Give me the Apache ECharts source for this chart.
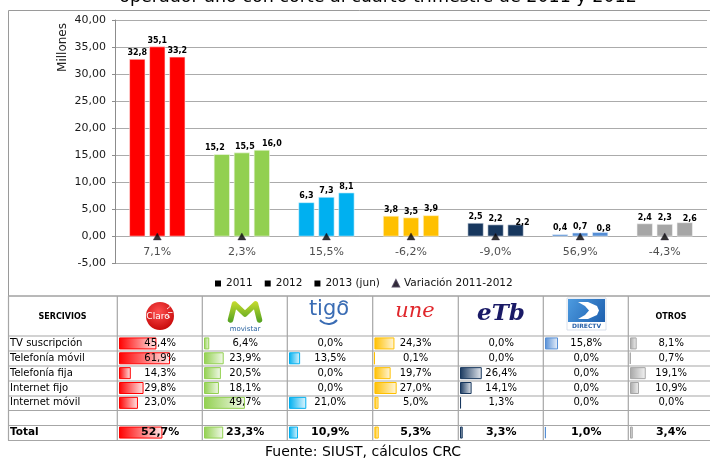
<!DOCTYPE html>
<html><head><meta charset="utf-8">
<script src="https://cdn.jsdelivr.net/npm/echarts@6/dist/echarts.min.js"></script>
<style>html,body{margin:0;padding:0;background:#fff}#c{width:710px;height:460px}</style>
</head><body><div id="c"></div>
<script>
// ---- data ----
const operators = ['Claro','Movistar','Tigo','UNE','ETB','DirecTV','Otros'];
const subs2011 = [32.8, 15.2, 6.3, 3.8, 2.5, 0.4, 2.4];
const subs2012 = [35.1, 15.5, 7.3, 3.5, 2.2, 0.7, 2.3];
const subs2013 = [33.2, 16.0, 8.1, 3.9, 2.2, 0.8, 2.6];
const variacion = [7.1, 2.3, 15.5, -6.2, -9.0, 56.9, -4.3];
const seriesNames = ['2011', '2012', '2013 (jun)', 'Variación 2011-2012'];
const yMin = -5, yMax = 40, yStep = 5;
const services = ['TV suscripción','Telefonía móvil','Telefonía fija','Internet fijo','Internet móvil'];
const shareClaro    = [45.4, 61.9, 14.3, 29.8, 23.0];
const shareMovistar = [6.4, 23.9, 20.5, 18.1, 49.7];
const shareTigo     = [0.0, 13.5, 0.0, 0.0, 21.0];
const shareUne      = [24.3, 0.1, 19.7, 27.0, 5.0];
const shareEtb      = [0.0, 0.0, 26.4, 14.1, 1.3];
const shareDirectv  = [15.8, 0.0, 0.0, 0.0, 0.0];
const shareOtros    = [8.1, 0.7, 19.1, 10.9, 0.0];
const totals        = [52.7, 23.3, 10.9, 5.3, 3.3, 1.0, 3.4];
const totalLabel = 'Total';
const headerLabel = 'SERCIVIOS';
const otrosLabel = 'OTROS';
const titleText = 'operador año con corte al cuarto trimestre de 2011 y 2012';
const yName = 'Millones';
const sourceText = 'Fuente: SIUST, cálculos CRC';

// ---- styles ----
const FONT = '"DejaVu Sans", Verdana, sans-serif';
const opColors = ['#FF0000','#92D050','#00B0F0','#FFC000','#17375E','#558ED5','#A6A6A6'];
const opLight  = ['#FFEAEA','#F2F9EA','#E3F6FD','#FFF6DC','#E6EAF0','#EDF3FB','#F4F4F4'];
const colLefts = [117.3, 202.3, 287.3, 372.7, 458.3, 543.3, 628.3];
const shares = [shareClaro, shareMovistar, shareTigo, shareUne, shareEtb, shareDirectv, shareOtros];
// label nudges (series index - category index) to mimic the original's de-overlapped labels
const labelNudge = {'0-1': [-7, 0], '1-1': [3, 0], '2-1': [10, 0], '2-4': [7, 4], '2-5': [3.5, 3], '2-6': [5, 3]};

const fmt1 = v => v.toFixed(1).replace('.', ',');
const fmt2 = v => v.toFixed(2).replace('.', ',');

const chart = echarts.init(document.getElementById('c'), null, {renderer: 'canvas'});

const grids = [{left: 115, right: 3, top: 20, bottom: 196.5, outerBoundsMode: 'none', containLabel: false}];
const xAxes = [{gridIndex: 0, type: 'category', data: operators, boundaryGap: true,
  axisLine: {show: false}, axisTick: {show: false}, axisLabel: {show: false}}];
const yAxes = [{gridIndex: 0, type: 'value', min: yMin, max: yMax, interval: yStep,
  axisLine: {show: true, lineStyle: {color: '#8c8c8c'}},
  axisTick: {show: true, length: 3, lineStyle: {color: '#8c8c8c'}},
  axisLabel: {formatter: fmt2, fontFamily: FONT, fontSize: 11, color: '#1a1a1a', margin: 9},
  splitLine: {show: true, lineStyle: {color: '#ababab', width: 1}}}];

const barLabel = {show: true, position: 'top', distance: 2, fontFamily: FONT, fontWeight: 'bold',
  fontSize: 8, color: '#000', formatter: p => fmt1(p.value)};
function mainBar(si, name, vals) {
  return {type: 'bar', name, xAxisIndex: 0, yAxisIndex: 0, barWidth: 16, barGap: '25%',
    itemStyle: {color: '#000'}, label: barLabel,
    data: vals.map((v, i) => {
      const d = {value: v, itemStyle: {color: opColors[i], borderColor: opLight[i], borderWidth: 0.6}};
      const n = labelNudge[si + '-' + i];
      if (n) d.label = {offset: n};
      return d;
    })};
}
const series = [
  mainBar(0, seriesNames[0], subs2011),
  mainBar(1, seriesNames[1], subs2012),
  mainBar(2, seriesNames[2], subs2013),
  {type: 'scatter', name: seriesNames[3], xAxisIndex: 0, yAxisIndex: 0, symbol: 'triangle', symbolSize: [8, 7],
   itemStyle: {color: '#000', borderColor: '#2a1f3a', borderWidth: 0.5}, z: 5,
   data: variacion.map(() => 0),
   label: {show: true, position: 'bottom', distance: 6, fontFamily: FONT, fontSize: 11, color: '#222',
     formatter: p => fmt1(variacion[p.dataIndex]) + '%'}}
];

// ---- table as per-operator horizontal bar grids ----
const rowNames = services.concat(['', totalLabel]);
shares.forEach((sh, i) => {
  const gi = i + 1;
  grids.push({left: colLefts[i] + 1.7, width: 82.4, top: 336, height: 104, outerBoundsMode: 'none', containLabel: false});
  xAxes.push({gridIndex: gi, type: 'value', min: 0, max: 100, show: false});
  yAxes.push({gridIndex: gi, type: 'category', inverse: true, show: i === 0,
    data: rowNames.map(r => r === totalLabel ? {value: r, textStyle: {fontWeight: 'bold', fontSize: 10.5, align: 'left'}} : r),
    axisLine: {show: false}, axisTick: {show: false}, splitLine: {show: false},
    axisLabel: {show: i === 0, align: 'left', margin: colLefts[0] + 1.7 - 10, fontFamily: FONT, fontSize: 10, color: '#000', interval: 0}});
  const vals = sh.concat([null, totals[i]]);
  const grad = new echarts.graphic.LinearGradient(0, 0, 1, 0, [{offset: 0, color: opColors[i]}, {offset: 1, color: opLight[i]}]);
  series.push({type: 'bar', xAxisIndex: gi, yAxisIndex: gi, barWidth: 12, silent: true,
    itemStyle: {color: grad, borderColor: opColors[i], borderWidth: 1},
    data: vals.map(v => v == null ? '-' : (v === 0 ? {value: 0, itemStyle: {borderWidth: 0}} : v))});
  series.push({type: 'bar', xAxisIndex: gi, yAxisIndex: gi, barWidth: 12, barGap: '-100%', z: 3, silent: true,
    itemStyle: {color: 'rgba(0,0,0,0)'},
    label: {show: true, position: 'inside', fontFamily: FONT, fontSize: 10, color: '#000',
      formatter: p => fmt1(vals[p.dataIndex]) + '%'},
    data: vals.map((v, r) => v == null ? '-' : (r === vals.length - 1 ?
      {value: 100, label: {fontWeight: 'bold', fontSize: 11}} : 100))});
});

// ---- static graphics (frame, table rules, logos, texts) ----
const G = [];
const LINE = '#a6a6a6';
G.push({type: 'rect', shape: {x: 8.5, y: 10.5, width: 720, height: 285.5}, style: {fill: null, stroke: '#9a9a9a', lineWidth: 1}, silent: true});
[296, 336, 351, 366, 381, 396, 410.5, 425.5, 440.5].forEach(y => {
  G.push({type: 'line', shape: {x1: 8, y1: y, x2: 712, y2: y}, style: {stroke: LINE, lineWidth: 1.2}, silent: true});
});
[8.5].concat(colLefts).forEach(x => {
  G.push({type: 'line', shape: {x1: x, y1: 296, x2: x, y2: 440.5}, style: {stroke: LINE, lineWidth: 1.2}, silent: true});
});
function txt(x, y, text, font, fill, extra) {
  return Object.assign({type: 'text', silent: true, style: Object.assign({x, y, text, font, fill,
    textAlign: 'center', textVerticalAlign: 'middle', align: 'center', verticalAlign: 'middle'}, extra || {})});
}
G.push(txt(378, -2.5, titleText, '17.5px ' + FONT, '#000'));
G.push(Object.assign(txt(0, 0, yName, '12px ' + FONT, '#222'), {x: 63, y: 47.5, rotation: Math.PI / 2}));
G.push(txt(62.5, 316.5, headerLabel, 'bold 8px ' + FONT, '#000'));
G.push(txt(671, 316.5, otrosLabel, 'bold 8px ' + FONT, '#000'));
G.push(txt(363, 452, sourceText, '14px ' + FONT, '#000'));
// Claro
G.push({type: 'circle', silent: true, shape: {cx: 160, cy: 316, r: 14},
  style: {fill: new echarts.graphic.RadialGradient(0.45, 0.35, 0.75, [{offset: 0, color: '#ff5050'}, {offset: 1, color: '#c00000'}])}});
G.push(txt(158, 317, 'Claro', '9px ' + FONT, '#fff'));
[[167, 309, 170, 306.5], [168, 312.5, 172.5, 312.5], [166.5, 315.5, 170, 317.5]].forEach(l =>
  G.push({type: 'line', silent: true, shape: {x1: l[0], y1: l[1], x2: l[2], y2: l[3]}, style: {stroke: '#fff', lineWidth: 0.8}}));
// Movistar
G.push({type: 'polyline', silent: true, shape: {points: [[230.5, 320], [234.5, 304], [245, 314], [255.5, 304], [259.5, 320]]},
  style: {fill: null, stroke: new echarts.graphic.LinearGradient(0, 0, 0, 1, [{offset: 0, color: '#c8dc2e'}, {offset: 1, color: '#4fa021'}]),
    lineWidth: 5.5, lineJoin: 'round', lineCap: 'round'}});
G.push(txt(245, 329, 'movistar', '7px ' + FONT, '#2b64a0'));
// Tigo
G.push(txt(329, 309.5, 'tigo', '21px ' + FONT, '#3a6cb4'));
G.push({type: 'arc', silent: true, shape: {cx: 328.5, cy: 313, r: 11, startAngle: Math.PI * 0.22, endAngle: Math.PI * 0.78},
  style: {fill: null, stroke: '#3a6cb4', lineWidth: 2}});
G.push({type: 'arc', silent: true, shape: {cx: 343.5, cy: 305.5, r: 4.5, startAngle: Math.PI * 1.15, endAngle: Math.PI * 1.85},
  style: {fill: null, stroke: '#3a6cb4', lineWidth: 1.5}});
// UNE
G.push(txt(415, 311.5, 'une', 'italic 21px "DejaVu Serif", serif', '#e0262b'));
// ETB
G.push(txt(501, 314, 'eTb', 'bold italic 23px "DejaVu Serif", serif', '#1a1a66'));
// DirecTV
G.push({type: 'rect', silent: true, shape: {x: 567, y: 298, width: 39, height: 32},
  style: {fill: '#fff', stroke: '#cfd8e6', lineWidth: 0.8}});
G.push({type: 'rect', silent: true, shape: {x: 568, y: 299, width: 37, height: 23},
  style: {fill: new echarts.graphic.LinearGradient(0, 0, 1, 1, [{offset: 0, color: '#4d9be0'}, {offset: 1, color: '#1d5fae'}])}});
G.push({type: 'polygon', silent: true, shape: {points: [[578, 302], [588, 302], [597, 306], [599, 310.5], [597, 315], [588, 319], [578, 319], [585, 315], [589, 310.5], [585, 306]]},
  style: {fill: '#fff'}});
G.push(txt(586.5, 326, 'DIRECTV', 'bold 6px ' + FONT, '#2a62a8'));

chart.setOption({
  animation: false,
  textStyle: {fontFamily: FONT},
  grid: grids, xAxis: xAxes, yAxis: yAxes, series,
  legend: {left: 210, top: 273, itemWidth: 6, itemHeight: 6, itemGap: 12,
    textStyle: {fontFamily: FONT, fontSize: 10.5, color: '#111'},
    data: [{name: seriesNames[0], icon: 'rect'}, {name: seriesNames[1], icon: 'rect'},
           {name: seriesNames[2], icon: 'rect'}, {name: seriesNames[3], icon: 'triangle'}]},
  graphic: G
});
</script></body></html>
